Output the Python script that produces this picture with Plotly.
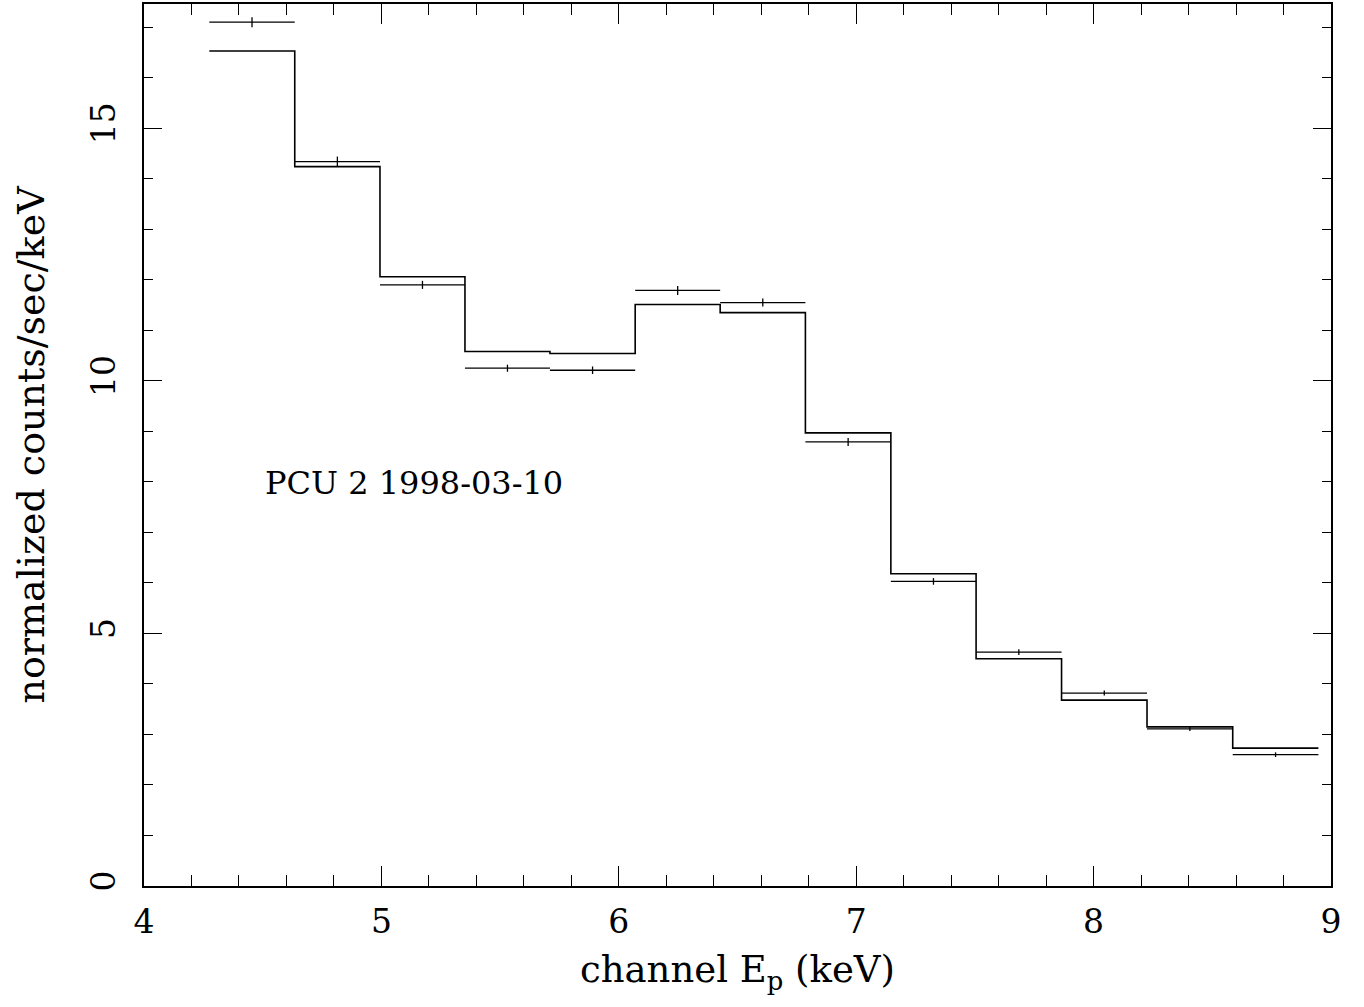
import plotly.graph_objects as go

# bin edges (keV)
bin_edges = [4.275, 4.635, 4.994, 5.352, 5.710, 6.069, 6.427, 6.786, 7.146,
             7.505, 7.865, 8.225, 8.586, 8.947]
# observed normalized counts/sec/keV
data_vals = [17.10, 14.34, 11.90, 10.25, 10.21, 11.79, 11.55, 8.79, 6.03,
             4.63, 3.82, 3.11, 2.60]
data_err = [0.10, 0.10, 0.08, 0.07, 0.075, 0.09, 0.08, 0.08, 0.066,
            0.056, 0.05, 0.043, 0.046]
# model (folded) values
model_vals = [16.53, 14.24, 12.06, 10.58, 10.54, 11.51, 11.35, 8.97, 6.18,
              4.50, 3.68, 3.15, 2.73]

x_ticks = [4, 5, 6, 7, 8, 9]
y_ticks = [0, 5, 10, 15]
label_text = "PCU 2 1998-03-10"

centers = [(a + b) / 2 for a, b in zip(bin_edges[:-1], bin_edges[1:])]
half_w = [(b - a) / 2 for a, b in zip(bin_edges[:-1], bin_edges[1:])]

FONT = "DejaVu Serif"

fig = go.Figure()
fig.add_trace(go.Scatter(
    x=bin_edges, y=model_vals + [model_vals[-1]],
    mode="lines", line=dict(shape="hv", color="black", width=1.6),
    showlegend=False, hoverinfo="skip"))
fig.add_trace(go.Scatter(
    x=centers, y=data_vals, mode="markers",
    marker=dict(size=1, color="rgba(0,0,0,0)"),
    error_x=dict(type="data", array=half_w, width=0, thickness=1.3, color="black"),
    error_y=dict(type="data", array=data_err, width=0, thickness=1.3, color="black"),
    showlegend=False))

fig.add_annotation(x=4.50, y=7.97, xref="x", yref="y", text=label_text,
                   showarrow=False, xanchor="left", yanchor="middle",
                   font=dict(family=FONT, size=32, color="black"))

axis_common = dict(
    showgrid=False, zeroline=False, showline=True, linecolor="black",
    linewidth=1.5, mirror="allticks", ticks="inside", tickcolor="black",
    tickwidth=1.2, tickfont=dict(family=FONT, size=33, color="black"),
)

fig.update_xaxes(
    range=[4, 9], tickvals=x_ticks, ticklen=20,
    minor=dict(dtick=0.2, tick0=4, ticks="inside", ticklen=11, tickcolor="black", tickwidth=1.2),
    title=dict(text="channel E<sub>p</sub> (keV)", standoff=16,
               font=dict(family=FONT, size=37, color="black")),
    ticklabelstandoff=6,
    **axis_common)
fig.update_yaxes(
    range=[0, 17.46], tickvals=y_ticks, ticklen=18, tickangle=-90,
    minor=dict(dtick=1, tick0=0, ticks="inside", ticklen=9, tickcolor="black", tickwidth=1.2),
    title=dict(text="normalized counts/sec/keV", standoff=28,
               font=dict(family=FONT, size=38, color="black")),
    ticklabelstandoff=14,
    **axis_common)

fig.update_layout(
    width=1364, height=1007,
    margin=dict(l=144, r=33, t=4, b=121, autoexpand=False),
    plot_bgcolor="white", paper_bgcolor="white",
)

fig.write_html("out.html")
